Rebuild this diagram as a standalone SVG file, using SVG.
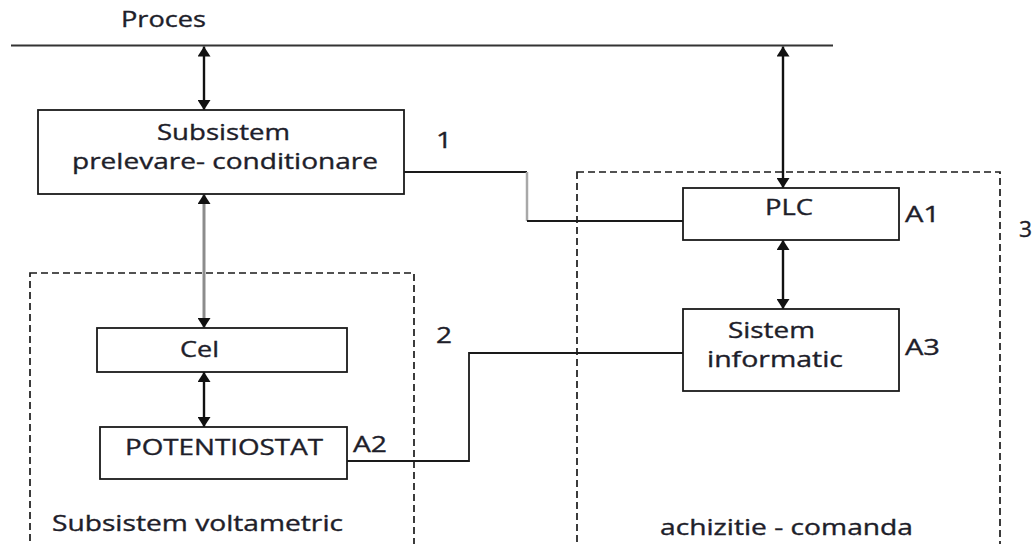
<svg xmlns="http://www.w3.org/2000/svg" width="1036" height="544" viewBox="0 0 1036 544">
  <style>
    .box { fill: #ffffff; stroke: #1a1a1a; stroke-width: 1.8; }
    .dash { fill: none; stroke: #1a1a1a; stroke-width: 1.7; stroke-dasharray: 7 4; }
    .wire { fill: none; stroke: #1a1a1a; stroke-width: 1.8; }
    .arr { fill: none; stroke: #111111; stroke-width: 2.4; marker-start: url(#ah); marker-end: url(#ah); }
    .garr { fill: none; stroke: #8c8c8c; stroke-width: 3; marker-start: url(#ah); marker-end: url(#ah); }
    .gwire { fill: none; stroke: #a8a8a8; stroke-width: 2.5; }
    text { font-family: "Open Sans", "Liberation Sans", sans-serif; font-size: 21px; fill: #1e1e2a; stroke: #1e1e2a; stroke-width: 0.35; }
  </style>
  <defs>
    <marker id="ah" viewBox="0 0 10 13" refX="10" refY="6.5" markerWidth="10" markerHeight="13" markerUnits="userSpaceOnUse" orient="auto-start-reverse">
      <path d="M0,0 L10,6.5 L0,13 z" fill="#111111"/>
    </marker>
  </defs>

  <g id="proces">
    <line x1="11" y1="45.5" x2="833" y2="45.5" stroke="#333333" stroke-width="1.8"/>
    <text x="121" y="27" textLength="85" lengthAdjust="spacingAndGlyphs">Proces</text>
  </g>

  <g id="group-voltametric">
    <rect class="dash" x="30" y="273" width="384" height="300"/>
    <text x="52" y="531" textLength="291" lengthAdjust="spacingAndGlyphs">Subsistem voltametric</text>
    <text x="436" y="343" textLength="16" lengthAdjust="spacingAndGlyphs">2</text>
  </g>

  <g id="group-achizitie">
    <rect class="dash" x="577" y="172" width="423" height="400"/>
    <text x="660" y="535" textLength="253" lengthAdjust="spacingAndGlyphs">achizitie - comanda</text>
    <text x="1019" y="237" textLength="13" lengthAdjust="spacingAndGlyphs">3</text>
  </g>

  <g id="connectors">
    <path class="arr" d="M204,46.5 L204,110"/>
    <path class="arr" d="M783,46.5 L783,188"/>
    <path class="garr" d="M204,194 L204,328"/>
    <path class="arr" d="M204,372 L204,427"/>
    <path class="arr" d="M783,240 L783,309"/>
    <path class="wire" d="M404,172 L527,172"/>
    <path class="gwire" d="M527,172 L527,221"/>
    <path class="wire" d="M527,221 L683,221"/>
    <path class="wire" d="M347,461 L469,461 L469,353 L683,353"/>
  </g>

  <g id="node-subsistem">
    <rect class="box" x="38" y="110" width="366" height="84"/>
    <text x="157" y="140" textLength="133" lengthAdjust="spacingAndGlyphs">Subsistem</text>
    <text x="72" y="169" textLength="306" lengthAdjust="spacingAndGlyphs">prelevare- conditionare</text>
    <text x="436" y="148" textLength="16" lengthAdjust="spacingAndGlyphs">1</text>
  </g>

  <g id="node-plc">
    <rect class="box" x="683" y="188" width="216" height="52"/>
    <text x="765" y="215" textLength="48" lengthAdjust="spacingAndGlyphs">PLC</text>
    <text x="905" y="222" textLength="35" lengthAdjust="spacingAndGlyphs">A1</text>
  </g>

  <g id="node-sistem">
    <rect class="box" x="683" y="309" width="216" height="82"/>
    <text x="728" y="338" textLength="87" lengthAdjust="spacingAndGlyphs">Sistem</text>
    <text x="707" y="367" textLength="136" lengthAdjust="spacingAndGlyphs">informatic</text>
    <text x="905" y="355" textLength="35" lengthAdjust="spacingAndGlyphs">A3</text>
  </g>

  <g id="node-cel">
    <rect class="box" x="97" y="328" width="250" height="44"/>
    <text x="180" y="357" textLength="39" lengthAdjust="spacingAndGlyphs">Cel</text>
  </g>

  <g id="node-potentiostat">
    <rect class="box" x="100" y="427" width="247" height="52"/>
    <text x="125" y="455" textLength="198" lengthAdjust="spacingAndGlyphs">POTENTIOSTAT</text>
    <text x="353" y="452" textLength="34" lengthAdjust="spacingAndGlyphs">A2</text>
  </g>
</svg>
